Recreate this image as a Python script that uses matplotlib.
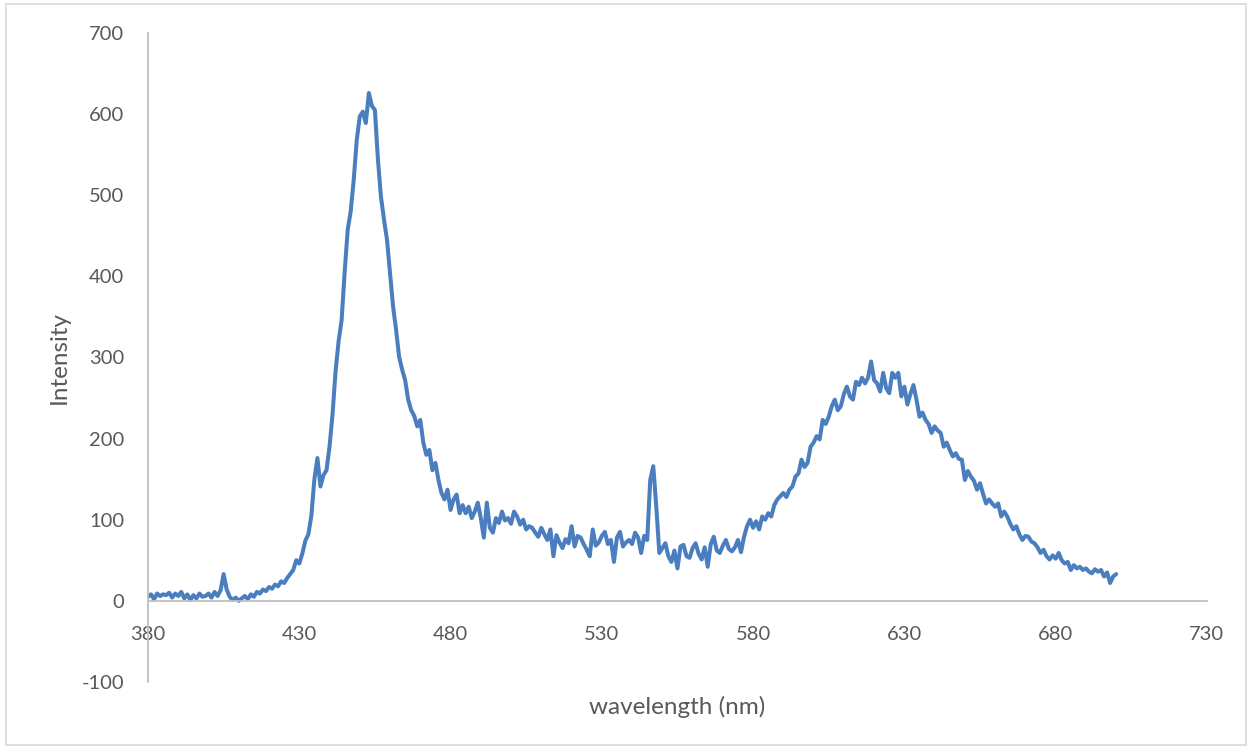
import numpy as np
import matplotlib.pyplot as plt
from matplotlib.patches import Rectangle

plt.rcParams['font.family'] = ['Lato', 'DejaVu Sans']
plt.rcParams['axes.unicode_minus'] = False

# emission spectrum, 1 nm steps from 380 to 700 nm
wl_start = 380
wl_end = 700
intensity = [
    5, 8, 2, 9, 6, 8, 7, 10, 4, 9,
    6, 11, 3, 8, 1, 7, 3, 9, 5, 6,
    9, 4, 11, 6, 13, 33, 14, 5, 1, 4,
    0, 3, 6, 2, 8, 5, 11, 9, 14, 12,
    17, 15, 20, 18, 24, 22, 28, 33, 38, 50,
    46, 58, 74, 82, 105, 150, 176, 141, 155, 161,
    190, 230, 283, 320, 346, 405, 457, 480, 519, 568,
    597, 603, 589, 626, 610, 605, 544, 498, 470, 445,
    404, 363, 334, 301, 285, 272, 248, 235, 228, 215,
    223, 195, 180, 186, 161, 170, 149, 133, 125, 137,
    112, 125, 131, 108, 118, 108, 116, 102, 110, 121,
    102, 78, 121, 90, 84, 102, 96, 110, 99, 102,
    95, 110, 104, 94, 100, 88, 92, 90, 84, 79,
    90, 82, 75, 88, 55, 81, 72, 65, 76, 71,
    92, 67, 80, 78, 70, 63, 55, 88, 68, 72,
    80, 85, 70, 75, 48, 78, 85, 67, 72, 75,
    70, 84, 78, 59, 80, 75, 149, 166, 116, 59,
    65, 71, 55, 48, 62, 40, 67, 69, 55, 53,
    65, 71, 58, 51, 66, 42, 70, 79, 62, 59,
    68, 75, 64, 61, 66, 75, 60, 79, 92, 100,
    90, 98, 88, 104, 100, 108, 104, 118, 125, 129,
    133, 128, 137, 141, 153, 157, 174, 165, 170, 190,
    195, 203, 199, 223, 218, 227, 240, 248, 235, 240,
    255, 264, 252, 248, 270, 266, 275, 268, 275, 295,
    272, 268, 258, 281, 262, 256, 281, 275, 281, 252,
    264, 242, 255, 266, 248, 227, 232, 223, 218, 207,
    215, 210, 207, 190, 195, 186, 178, 182, 175, 174,
    149, 160, 153, 148, 137, 145, 132, 120, 125, 120,
    116, 120, 104, 110, 104, 95, 88, 92, 82, 75,
    80, 79, 73, 71, 66, 59, 63, 55, 51, 56,
    52, 59, 50, 46, 48, 38, 44, 40, 42, 38,
    40, 36, 34, 39, 36, 38, 30, 35, 22, 30,
    33,
]
wavelength = np.arange(wl_start, wl_end + 1)

x_ticks = [380, 430, 480, 530, 580, 630, 680, 730]
y_ticks = [-100, 0, 100, 200, 300, 400, 500, 600, 700]

text_color = '#595959'
axis_color = '#BFBFBF'

fig = plt.figure(figsize=(12.52, 7.49), dpi=100)
ax = fig.add_axes([0.1182, 0.0895, 0.8458, 0.8665])

ax.plot(wavelength, intensity, color='#4A7EBF', linewidth=2.9,
        solid_joinstyle='round', solid_capstyle='round')

ax.set_xlim(380, 730)
ax.set_ylim(-100, 700)
ax.set_xticks(x_ticks)
ax.set_yticks(y_ticks)

ax.spines['top'].set_visible(False)
ax.spines['right'].set_visible(False)
ax.spines['bottom'].set_position(('data', 0))
for s in ('left', 'bottom'):
    ax.spines[s].set_color(axis_color)
    ax.spines[s].set_linewidth(1.3)

ax.tick_params(axis='x', length=0, pad=18, labelsize=14.5, labelcolor=text_color)
ax.tick_params(axis='y', length=0, pad=17, labelsize=14.5, labelcolor=text_color)

ax.set_xlabel('wavelength (nm)', fontsize=17.5, color=text_color)
ax.set_ylabel('Intensity', fontsize=17.5, color=text_color)
ax.xaxis.set_label_coords(0.5, -0.021)
ax.yaxis.set_label_coords(-0.074, 0.5)

# light chart-area frame
fig.patches.append(Rectangle((0.005, 0.005), 0.99, 0.99, transform=fig.transFigure,
                             fill=False, edgecolor='#D9D9D9', linewidth=1.2))

fig.savefig('out.png', dpi=100)
